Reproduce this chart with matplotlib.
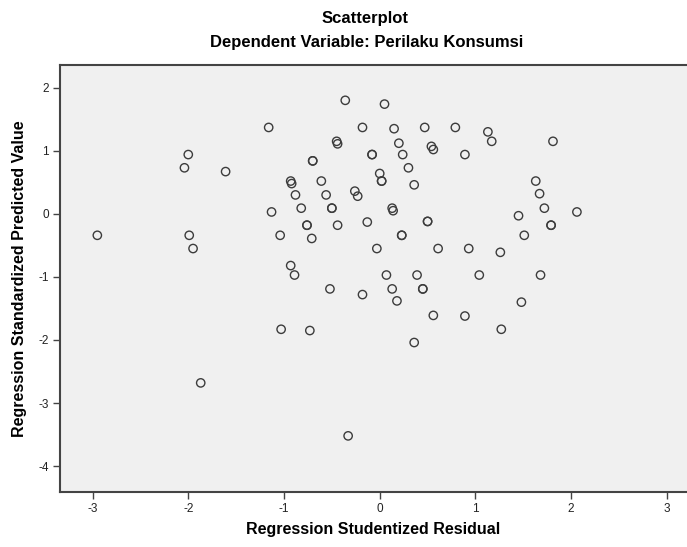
import matplotlib
matplotlib.use("Agg")
import matplotlib.pyplot as plt

plt.rcParams['font.family'] = ['Liberation Sans', 'DejaVu Sans']

resid = [-0.36, -1.16, -0.18, -0.45, -0.44, -0.08, -0.08, -2.00, -2.04, -1.61,
         -0.70, -0.70, 0.00, -0.93, -0.92, -0.61, -0.88, -0.56, -0.26, -0.23,
         -0.82, -0.50, -0.50, -1.13, -0.76, -0.76, -0.44, -0.13, -1.04, -0.71,
         -2.95, -1.99, -1.95, -0.03, -0.93, 0.05, 0.15, 0.47, 0.79, 1.13,
         1.17, 1.81, 0.20, 0.54, 0.56, 0.24, 0.89, 0.30, 0.02, 0.02,
         0.36, 1.63, 1.67, 1.72, 1.45, 2.06, 1.79, 1.79, 1.51, 0.13,
         0.14, 0.50, 0.50, 0.23, 0.23, 0.61, 0.93, 1.26, -0.89, -0.52,
         -0.18, -1.03, -0.73, -1.87, -0.33, 0.07, 0.39, 1.04, 1.68, 0.13,
         0.45, 0.45, 0.18, 1.48, 0.56, 0.89, 1.27, 0.36]
pred = [1.80, 1.37, 1.37, 1.15, 1.11, 0.94, 0.94, 0.94, 0.73, 0.67,
        0.84, 0.84, 0.64, 0.52, 0.48, 0.52, 0.30, 0.30, 0.36, 0.28,
        0.09, 0.09, 0.09, 0.03, -0.18, -0.18, -0.18, -0.13, -0.34, -0.39,
        -0.34, -0.34, -0.55, -0.55, -0.82, 1.74, 1.35, 1.37, 1.37, 1.30,
        1.15, 1.15, 1.12, 1.07, 1.02, 0.94, 0.94, 0.73, 0.52, 0.52,
        0.46, 0.52, 0.32, 0.09, -0.03, 0.03, -0.18, -0.18, -0.34, 0.09,
        0.05, -0.12, -0.12, -0.34, -0.34, -0.55, -0.55, -0.61, -0.97, -1.19,
        -1.28, -1.83, -1.85, -2.68, -3.52, -0.97, -0.97, -0.97, -0.97, -1.19,
        -1.19, -1.19, -1.38, -1.40, -1.61, -1.62, -1.83, -2.04]

xticks = [-3, -2, -1, 0, 1, 2, 3]
yticks = [-4, -3, -2, -1, 0, 1, 2]

fig = plt.figure(figsize=(6.87, 5.47), dpi=100)
ax = fig.add_axes([60/687, 55/547, 627/687, 427/547])
ax.set_facecolor('#f0f0f0')
ax.scatter(resid, pred, s=36, facecolors='none', edgecolors='#3c3c3c', linewidths=1.0, zorder=3)
ax.set_xlim(-3.34, 3.21)
ax.set_ylim(-4.41, 2.36)
ax.set_xticks(xticks)
ax.set_yticks(yticks)
ax.set_xticklabels([str(t) for t in xticks])
ax.set_yticklabels([str(t) for t in yticks])
ax.tick_params(direction='out', length=5, width=1, color='#444444', labelsize=8.5, labelcolor='#222222', pad=3)
for s in ['left', 'bottom', 'top']:
    ax.spines[s].set_color('#444444')
    ax.spines[s].set_linewidth(1.5)
ax.spines['right'].set_visible(False)

ax.set_xlabel('Regression Studentized Residual', fontsize=11.5, fontweight='bold', labelpad=5)
ax.set_ylabel('Regression Standardized Predicted Value', fontsize=11.5, fontweight='bold', labelpad=8)

fig.text(365/687, 1 - 18/547, 'Scatterplot', ha='center', va='center', fontsize=12, fontweight='bold')
fig.text(367/687, 1 - 42/547, 'Dependent Variable: Perilaku Konsumsi', ha='center', va='center', fontsize=12, fontweight='bold')

fig.savefig('out.png', dpi=100, facecolor='white')
